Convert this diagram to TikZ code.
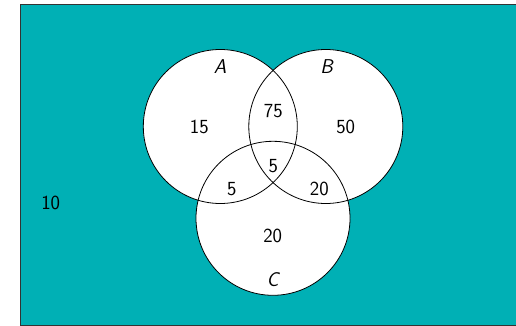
\documentclass[tikz,border=0pt]{standalone}
\usepackage{fontspec}
\definecolor{bgteal}{RGB}{0,176,181}
\begin{document}
\begin{tikzpicture}[x=1pt,y=-1pt,
  set/.style={draw=black,line width=0.8pt},
  lbl/.style={font=\fontsize{20}{24}\selectfont\sffamily,inner sep=0pt},
  setname/.style={font=\fontsize{20}{24}\selectfont\sffamily\itshape,inner sep=0pt}]
\useasboundingbox (0,0) rectangle (516,326);
\begin{scope}
\clip (0,0) rectangle (516,326);
\draw[fill=bgteal,draw=black!80,line width=0.8pt] (20,4) rectangle (530,325.5);
\end{scope}
\fill[white] (220.3,126.5) circle (77);
\fill[white] (325.8,126.5) circle (77);
\fill[white] (273,218.3) circle (77);
\draw[set] (220.3,126.5) circle (77);
\draw[set] (325.8,126.5) circle (77);
\draw[set] (273,218.3) circle (77);
\node[setname] (nA) at (220,66.7) {A};
\node[setname] (nB) at (326.7,66.7) {B};
\node[setname] (nC) at (272.7,280) {C};
\node[lbl] (a) at (199.3,126.7) {15};
\node[lbl] (ab) at (273.3,110.7) {75};
\node[lbl] (b) at (345.7,126.7) {50};
\node[lbl] (abc) at (273.3,166) {5};
\node[lbl] (ac) at (231.7,189) {5};
\node[lbl] (bc) at (319.3,189) {20};
\node[lbl] (c) at (272.7,235.7) {20};
\node[lbl] (u) at (50.7,203.3) {10};
\end{tikzpicture}
\end{document}
